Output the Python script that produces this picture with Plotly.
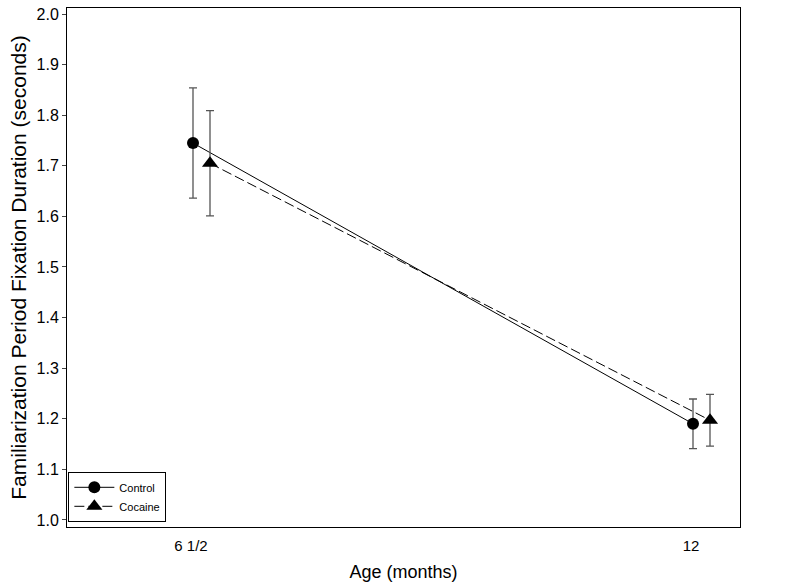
import plotly.graph_objects as go

# data
ages = ["6 1/2", "12"]
control_mean = [1.745, 1.190]
control_err = [0.109, 0.049]
cocaine_mean = [1.705, 1.197]
cocaine_err = [0.104, 0.051]

pos = list(range(len(ages)))
font = "Liberation Sans, Arial, sans-serif"

fig = go.Figure()

fig.add_trace(go.Scatter(
    x=[p + 0.004 for p in pos], y=control_mean, name="Control",
    mode="lines+markers",
    line=dict(color="black", width=1),
    marker=dict(symbol="circle", size=12, color="black"),
    error_y=dict(type="data", array=control_err, color="#555555", thickness=1.3, width=4),
))
fig.add_trace(go.Scatter(
    x=[p + 0.038 for p in pos], y=cocaine_mean, name="Cocaine",
    mode="lines+markers",
    line=dict(color="black", width=1, dash="10px,4px"),
    marker=dict(symbol="triangle-up", size=14, color="black"),
    error_y=dict(type="data", array=cocaine_err, color="#555555", thickness=1.3, width=4),
))

fig.update_layout(
    width=800, height=587,
    margin=dict(l=67, r=60, t=8, b=60),
    plot_bgcolor="white", paper_bgcolor="white",
    font=dict(family=font, color="black", size=15),
    legend=dict(
        x=0.002, y=0.01, xanchor="left", yanchor="bottom",
        bordercolor="black", borderwidth=1, bgcolor="white",
        font=dict(size=11), tracegroupgap=0, itemwidth=40,
    ),
)
fig.update_xaxes(
    tickvals=pos, ticktext=ages, range=[-0.248, 1.098],
    showline=True, linecolor="black", linewidth=1, mirror=True,
    showgrid=False, zeroline=False, ticks="", automargin=False,
    ticklabelstandoff=5,
    title=dict(text="Age (months)", font=dict(size=18), standoff=12),
)
fig.update_yaxes(
    range=[0.986, 2.012], tickvals=[1.0 + i * 0.1 for i in range(11)], tickformat=".1f",
    showline=True, linecolor="black", linewidth=1, mirror=True,
    showgrid=False, zeroline=False, ticks="outside", ticklen=4, automargin=False,
    tickfont=dict(size=16),
    title=dict(text="Familiarization Period Fixation Duration (seconds)", font=dict(size=21), standoff=4),
)

# drop the default 8px body margin so the figure fills the window
fig.write_html("out.html", config={"displayModeBar": False},
               post_script="document.body.style.margin='0';")
